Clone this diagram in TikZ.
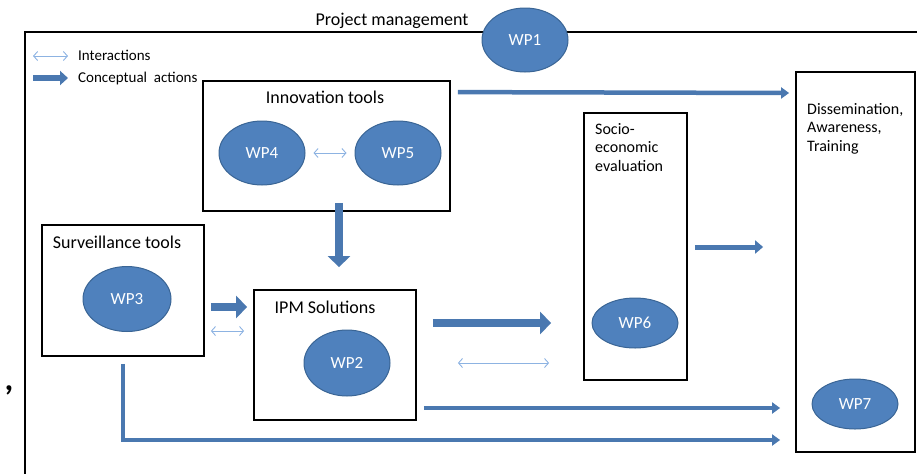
\documentclass[tikz,border=0pt]{standalone}
\usepackage{fontspec}
\setmainfont{Carlito}
\usetikzlibrary{shapes.geometric,arrows.meta,positioning}

\definecolor{wpblue}{HTML}{4F81BD}
\definecolor{wpedge}{HTML}{3A6595}
\definecolor{actblue}{HTML}{4A78B0}
\definecolor{intblue}{HTML}{8DB3E2}

\tikzset{
  wp/.style={ellipse,fill=wpblue,draw=wpedge,line width=1pt,text=white,
    minimum width=86pt,minimum height=64pt,inner sep=0pt,font=\fontsize{17}{19}\selectfont},
  area/.style={draw=black,line width=1.8pt,inner sep=0pt},
  title/.style={inner sep=0pt,font=\fontsize{18}{19}\selectfont},
  sidetext/.style={inner sep=0pt,anchor=north west,align=left,font=\fontsize{16}{18.5}\selectfont},
  bigarrow/.style={draw=actblue,line width=8pt,-{Triangle[length=11pt,width=22pt]}},
  midarrow/.style={draw=actblue,line width=4.5pt,-{Triangle[length=8pt,width=11pt]}},
  interact/.style={draw=intblue,line width=0.9pt,{Straight Barb[length=4pt,width=9pt]}-{Straight Barb[length=4pt,width=9pt]}}
}

\begin{document}
\begin{tikzpicture}[x=1pt,y=-1pt]
    \useasboundingbox (0,0) rectangle (917,474);
    \draw[line width=1.6pt] (917,32) -- (25,32) -- (25,474);
    \node[title] (pm) at (392,21) {Project management};
    \node[wp] (wp1) at (525,40) {WP1};

    \coordinate (li) at (33,56);
    \coordinate (lc) at (33,78);
    \draw[interact] (li) -- ++(35,0);
    \draw[draw=actblue,line width=6pt,-{Triangle[length=8pt,width=14pt]}] (lc) -- ++(35,0);
    \node[title,anchor=west,font=\fontsize{15}{17}\selectfont] (tint) at (78,55) {Interactions};
    \node[title,anchor=west,font=\fontsize{15}{17}\selectfont] (tcon) at (78,78) {Conceptual\ \ actions};

    \node[area,minimum width=247pt,minimum height=130pt] (innov) at (326.5,146) {};
    \node[title] (tinnov) at (325,97) {Innovation tools};
    \node[wp] (wp4) at (262,153) {WP4};
    \node[wp] (wp5) at (398,153) {WP5};
    \draw[interact] ([xshift=8pt]wp4.east) -- ([xshift=-8pt]wp5.west);

    \node[area,minimum width=162pt,minimum height=131pt] (surv) at (123,290.5) {};
    \node[title] (tsurv) at (117,242) {Surveillance tools};
    \node[wp,minimum width=88pt,minimum height=65pt] (wp3) at (127,299) {WP3};

    \node[area,minimum width=162pt,minimum height=130pt] (ipm) at (335,355) {};
    \node[title] (tipm) at (325,307) {IPM Solutions};
    \node[wp,minimum height=66pt] (wp2) at (347,363) {WP2};

    \node[area,minimum width=103pt,minimum height=267pt] (socio) at (635.5,246.5) {};
    \node[sidetext] (tsocio) at (595,123) {Socio-\\economic\\evaluation};
    \node[wp,minimum height=50pt] (wp6) at (635,323) {WP6};

    \node[area,minimum width=119pt,minimum height=380pt] (dissem) at (855.5,262) {};
    \node[sidetext] (tdissem) at (807,103) {Dissemination,\\Awareness,\\Training};
    \node[wp,minimum height=50pt] (wp7) at (855,404) {WP7};

    \draw[midarrow] ([xshift=7pt,yshift=-12pt]innov.north east) -- ([xshift=-6pt]dissem.west |- 0,93);
    \draw[bigarrow] ([xshift=12.5pt,yshift=9pt]innov.south) -- ([xshift=4pt,yshift=22pt]ipm.north);
    \draw[bigarrow] ([xshift=6pt]surv.east |- 0,307) -- ([xshift=-6pt]ipm.west |- 0,307);
    \draw[interact] ([xshift=6pt]surv.east |- 0,331) -- ([xshift=-9pt]ipm.west |- 0,331);
    \draw[bigarrow] ([xshift=16pt]ipm.east |- 0,323) -- ([xshift=-32pt]socio.west |- 0,323);
    \draw[interact] ([xshift=41pt]ipm.east |- 0,363) -- ([xshift=-34pt]socio.west |- 0,363);
    \draw[midarrow,line width=5pt,-{Triangle[length=8pt,width=13pt]}] ([xshift=7pt]socio.east |- 0,247) -- ([xshift=-32pt]dissem.west |- 0,247);
    \draw[midarrow] ([xshift=7pt]ipm.east |- 0,408) -- ([xshift=-15pt]dissem.west |- 0,408);
    \draw[midarrow] ([yshift=-7pt]surv.south) -- (surv.south |- 0,440) -- ([xshift=-15pt]dissem.west |- 0,440);

    \node[font=\bfseries\fontsize{34}{34}\selectfont,inner sep=0pt] (comma) at (9,390) {,};
\end{tikzpicture}
\end{document}
